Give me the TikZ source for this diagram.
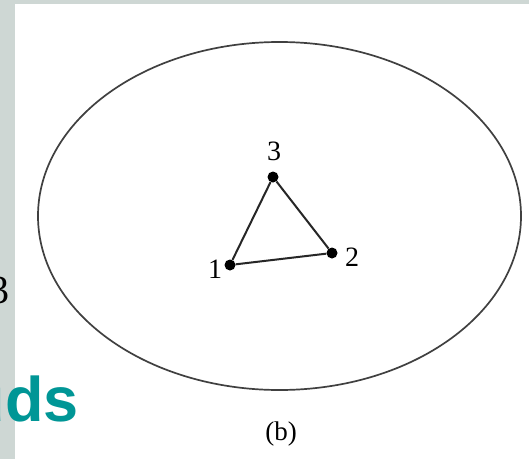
\documentclass[tikz,border=0pt]{standalone}
\usepackage{fontspec}
\setmainfont{Liberation Serif}
\newfontfamily\headfont{Liberation Sans}
\definecolor{slidegray}{RGB}{206,215,212}
\definecolor{slideteal}{RGB}{0,150,150}
\begin{document}
\begin{tikzpicture}[x=1pt,y=1pt,
  vertex/.style={circle,fill=black,inner sep=0pt,minimum size=11pt},
  vlabel/.style={inner sep=0pt,font=\fontsize{28}{30}\selectfont},
  edge/.style={line width=2pt,draw=black!85}]
\useasboundingbox (0,0) rectangle (529,459);
\fill[slidegray] (0,0) rectangle (529,459);
\fill[white] (15,0) rectangle (529,455);
% slide fragments at the left edge
\node[anchor=base west,inner sep=0pt,font=\fontsize{40}{44}\selectfont] (leftthree) at (-11,156) {3};
\node[anchor=base east,inner sep=0pt,text=slideteal,font=\headfont\bfseries\fontsize{63}{66}\selectfont] (heading) at (79,38) {uds};
% outer boundary
\draw[line width=1.7pt,black!75] (279.5,243) ellipse [x radius=241.5, y radius=174];
% triangle
\node[vertex] (n1) at (230,194) {};
\node[vertex] (n2) at (332,206) {};
\node[vertex] (n3) at (273,282) {};
\draw[edge] (n1) -- (n2) -- (n3) -- (n1);
\node[vlabel] (l1) at (215,190) {1};
\node[vlabel] (l2) at (352,202) {2};
\node[vlabel] (l3) at (274,308) {3};
\node[inner sep=0pt,font=\fontsize{27}{30}\selectfont] (cap) at (281,25) {(b)};
\end{tikzpicture}
\end{document}
